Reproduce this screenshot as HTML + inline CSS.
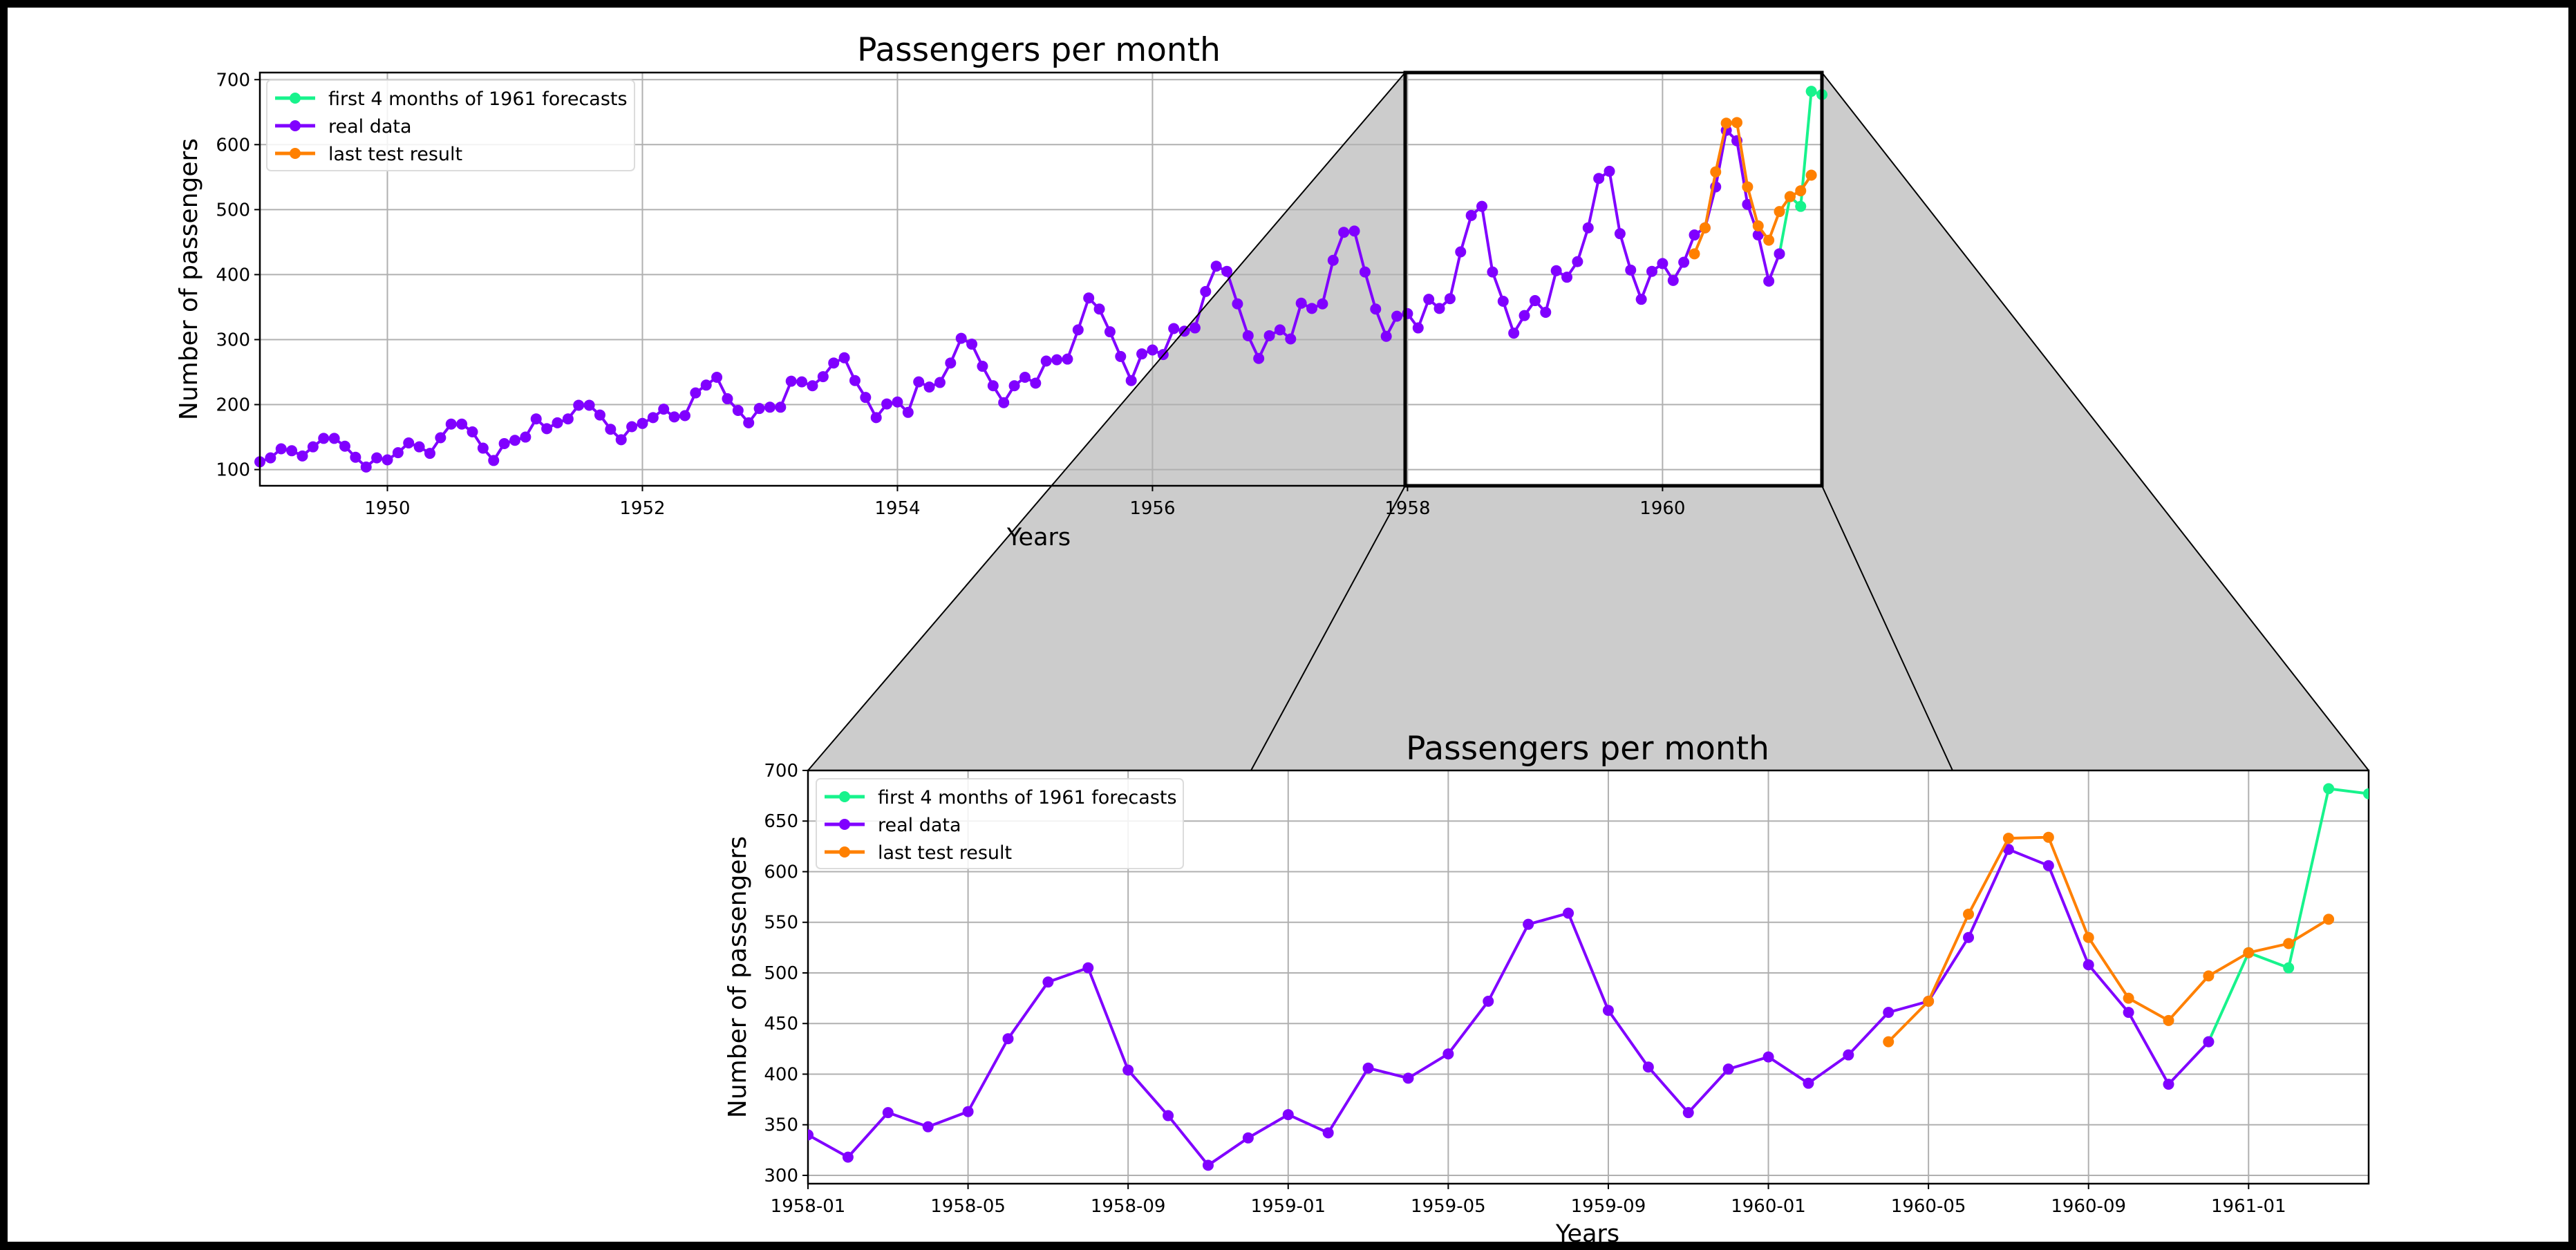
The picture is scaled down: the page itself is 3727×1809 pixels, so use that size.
<!DOCTYPE html>
<html><head><meta charset="utf-8"><style>
html,body{margin:0;padding:0;background:#000;}
svg{display:block;}
text{font-family:"DejaVu Sans","Liberation Sans",sans-serif;fill:#000;}
</style></head><body>
<svg id="chart" xmlns="http://www.w3.org/2000/svg" width="3727" height="1809" viewBox="0 0 3727 1809">
<rect x="11" y="11" width="3705" height="1786" fill="#fff"/>
<g id="layer"></g>
</svg>
<script>
const realData = [112,118,132,129,121,135,148,148,136,119,104,118,
115,126,141,135,125,149,170,170,158,133,114,140,
145,150,178,163,172,178,199,199,184,162,146,166,
171,180,193,181,183,218,230,242,209,191,172,194,
196,196,236,235,229,243,264,272,237,211,180,201,
204,188,235,227,234,264,302,293,259,229,203,229,
242,233,267,269,270,315,364,347,312,274,237,278,
284,277,317,313,318,374,413,405,355,306,271,306,
315,301,356,348,355,422,465,467,404,347,305,336,
340,318,362,348,363,435,491,505,404,359,310,337,
360,342,406,396,420,472,548,559,463,407,362,405,
417,391,419,461,472,535,622,606,508,461,390,432];
const realStart = 0; // month index of 1949-01
const forecastData = [432,520,505,682,677];
const forecastStart = 143; // 1960-12
const testData = [432,472,558,633,634,535,475,453,497,520,529,553];
const testStart = 135; // 1960-04
const topYTicks = [100,200,300,400,500,600,700];
const topXTickMonths = [12,36,60,84,108,132];
const topXTickLabels = ["1950","1952","1954","1956","1958","1960"];
const botYTicks = [300,350,400,450,500,550,600,650,700];
const botXTickMonths = [108,112,116,120,124,128,132,136,140,144];
const botXTickLabels = ["1958-01","1958-05","1958-09","1959-01","1959-05","1959-09","1960-01","1960-05","1960-09","1961-01"];

const NS="http://www.w3.org/2000/svg";
const layer=document.getElementById('layer');
function mk(tag,attrs,parent){const e=document.createElementNS(NS,tag);for(const k in attrs)e.setAttribute(k,attrs[k]);(parent||layer).appendChild(e);return e;}

const T={x0:376,x1:2636,y0:105,y1:703,tmin:0,tmax:147,vmin:75.1,vmax:710.9};
const B={x0:1169,x1:3427,y0:1115,y1:1713,tmin:108,tmax:147,vmin:291.8,vmax:700};
function sx(ax,t){return ax.x0+(t-ax.tmin)*(ax.x1-ax.x0)/(ax.tmax-ax.tmin);}
function sy(ax,v){return ax.y1-(v-ax.vmin)*(ax.y1-ax.y0)/(ax.vmax-ax.vmin);}

const colors={green:"#17f38c",purple:"#8000ff",orange:"#ff8000"};

function drawAxes(ax,name){
  const g=mk('g',{});
  
  
  const bg=mk('rect',{x:ax.x0,y:ax.y0,width:ax.x1-ax.x0,height:ax.y1-ax.y0,fill:'#fff'},g);
  
  
  return g;
}
function drawGridTicks(ax,g,name,yTicks,xTicks,xLabels,tickFont){
  yTicks.forEach(v=>{const y=sy(ax,v);
    const l=mk('line',{x1:ax.x0,x2:ax.x1,y1:y,y2:y,stroke:'#b0b0b0','stroke-width':2},g);
    
    
    mk('line',{x1:ax.x0-8,x2:ax.x0,y1:y,y2:y,stroke:'#000','stroke-width':2},g);
    const t=mk('text',{x:ax.x0-14,y:y+9,'text-anchor':'end','font-size':tickFont},g);
    t.textContent=v;
    
    
  });
  xTicks.forEach((m,i)=>{const x=sx(ax,m);
    const l=mk('line',{x1:x,x2:x,y1:ax.y0,y2:ax.y1,stroke:'#b0b0b0','stroke-width':2},g);
    
    
    mk('line',{x1:x,x2:x,y1:ax.y1,y2:ax.y1+8,stroke:'#000','stroke-width':2},g);
    const t=mk('text',{x:x,y:ax.y1+41,'text-anchor':'middle','font-size':tickFont},g);
    t.textContent=xLabels[i];
    
    
  });
}
function series(ax,g,data,start,color,sname,lw,r){
  const pts=data.map((v,i)=>[sx(ax,start+i),sy(ax,v)]);
  const p=mk('polyline',{points:pts.map(p=>p.join(',')).join(' '),fill:'none',stroke:color,'stroke-width':lw,'stroke-linejoin':'round'},g);
  
  
  pts.forEach(q=>{const c=mk('circle',{cx:q[0],cy:q[1],r:r,fill:color},g);
    
    });
}
function legend(x,y,w,h,g,name){
  const lg=mk('g',{},g);
  
  
  mk('rect',{x:x,y:y,width:w,height:h,rx:6,fill:'#fff','fill-opacity':0.85,stroke:'#dcdcdc','stroke-width':2},lg);
  const items=[["first 4 months of 1961 forecasts",colors.green],["real data",colors.purple],["last test result",colors.orange]];
  items.forEach((it,i)=>{const cy=y+26+i*40;
    mk('line',{x1:x+12,x2:x+70,y1:cy,y2:cy,stroke:it[1],'stroke-width':5},lg);
    mk('circle',{cx:x+41,cy:cy,r:8,fill:it[1]},lg);
    const t=mk('text',{x:x+89,y:cy+10,'font-size':27},lg);
    t.textContent=it[0];
    
    
  });
}

// top axes
drawAxes(T,'top-axes');
const gp=mk('polygon',{points:`2033,105 1169,1115 3427,1115 2636,105`,fill:'#cccccc'});


const bw=mk('rect',{x:2033,y:105,width:603,height:598,fill:'#fff'});


const gTop2=mk('g',{});


drawGridTicks(T,gTop2,'top',topYTicks,topXTickMonths,topXTickLabels,26);
series(T,gTop2,forecastData,forecastStart,colors.green,'top-forecast',4,8);
series(T,gTop2,realData,realStart,colors.purple,'top-real-data',4,8);
series(T,gTop2,testData,testStart,colors.orange,'top-test-result',4,8);
mk('rect',{x:T.x0,y:T.y0,width:T.x1-T.x0,height:T.y1-T.y0,fill:'none',stroke:'#000','stroke-width':2.5},gTop2);
legend(386,116,532,131,gTop2,'top-legend');
const zl=[[2033,105,1169,1115],[2033,703,1810,1115],[2636,703,2825,1115],[2636,105,3427,1115]];
zl.forEach(a=>{const l=mk('line',{x1:a[0],y1:a[1],x2:a[2],y2:a[3],stroke:'#000','stroke-width':2});
  
  });
const zb=mk('rect',{x:2033,y:105,width:603,height:598,fill:'none',stroke:'#000','stroke-width':5});



// bottom axes
const gB=drawAxes(B,'bottom-axes');
drawGridTicks(B,gB,'bottom',botYTicks,botXTickMonths,botXTickLabels,26);
const cp=mk('clipPath',{id:'clipB'});
mk('rect',{x:B.x0,y:B.y0-10,width:B.x1-B.x0,height:B.y1-B.y0+10},cp);
const gBd=mk('g',{'clip-path':'url(#clipB)'});


series(B,gBd,forecastData,forecastStart,colors.green,'bottom-forecast',4,8);
series(B,gBd,realData.slice(108),108,colors.purple,'bottom-real-data',4,8);
series(B,gBd,testData,testStart,colors.orange,'bottom-test-result',4,8);
mk('rect',{x:B.x0,y:B.y0,width:B.x1-B.x0,height:B.y1-B.y0,fill:'none',stroke:'#000','stroke-width':2.5},gB);
legend(1181,1127,531,130,gB,'bottom-legend');

function txt(x,y,s,size,name,rot){const t=mk('text',{x:x,y:y,'text-anchor':'middle','font-size':size});
  if(rot)t.setAttribute('transform',`rotate(-90 ${x} ${y})`);
  t.textContent=s;
  
  }
txt(1503,88,"Passengers per month",47,'top-title');
txt(1503,789,"Years",35,'top-x-axis-title');
txt(285,404,"Number of passengers",36,'top-y-axis-title',true);
txt(2297,1099,"Passengers per month",47,'bottom-title');
txt(2297,1797,"Years",35,'bottom-x-axis-title');
txt(1079,1414,"Number of passengers",36,'bottom-y-axis-title',true);
</script>
</body></html>
